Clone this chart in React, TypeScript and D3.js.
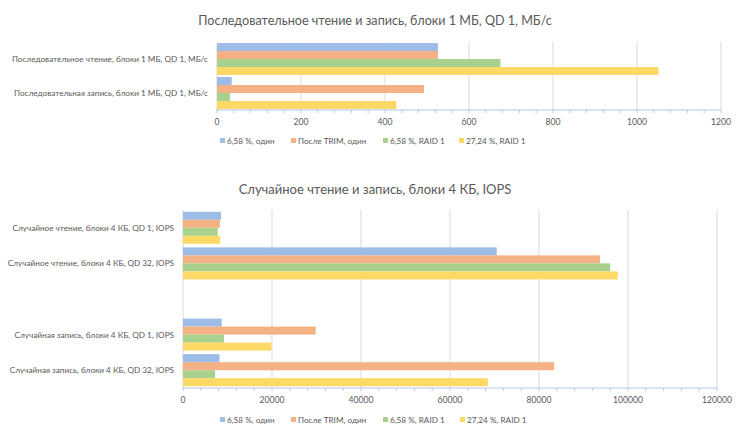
import * as React from "react";
import * as d3 from "d3";

const seriesNames = ["6,58 %, один", "После TRIM, один", "6,58 %, RAID 1", "27,24 %, RAID 1"];
const seriesColors = ["#9ebce8", "#f4b183", "#a9d18e", "#ffd966"];

const seqTitle = "Последовательное чтение и запись, блоки 1 МБ, QD 1, МБ/с";
const seqCategories = [
    "Последовательное чтение, блоки 1 МБ, QD 1, МБ/с",
    "Последовательная запись, блоки 1 МБ, QD 1, МБ/с",
];
// one array per category, values in series order
const seqRead = [526, 526, 675, 1051];
const seqWrite = [35, 493, 31, 427];
const seqTicks = [0, 200, 400, 600, 800, 1000, 1200];

const rndTitle = "Случайное чтение и запись, блоки 4 КБ, IOPS";
const rndCategories = [
    "Случайное чтение, блоки 4 КБ, QD 1, IOPS",
    "Случайное чтение, блоки 4 КБ, QD 32, IOPS",
    "",
    "Случайная запись, блоки 4 КБ, QD 1, IOPS",
    "Случайная запись, блоки 4 КБ, QD 32, IOPS",
];
const rndReadQd1 = [8540, 8300, 7800, 8300];
const rndReadQd32 = [70500, 93700, 96000, 97700];
const rndWriteQd1 = [8700, 29800, 9200, 19900];
const rndWriteQd32 = [8200, 83400, 7200, 68500];
const rndTicks = [0, 20000, 40000, 60000, 80000, 100000, 120000];

const FONT = "Lato, 'Open Sans', sans-serif";
const TEXT = "#595959";

type ChartProps = {
    title: string;
    titleY: number;
    titleSize: number;
    categories: string[];
    values: (number[] | null)[];
    ticks: number[];
    x0: number;
    x1: number;
    top: number;
    bottom: number;
    padInner: number;
    padOuter: number;
    legendY: number;
    legendX: number[];
};

function HBarChart(p: ChartProps) {
    const x = d3.scaleLinear().domain([0, p.ticks[p.ticks.length - 1]]).range([p.x0, p.x1]);
    const y = d3.scaleBand<number>()
        .domain(p.categories.map((_, i) => i))
        .range([p.top, p.bottom])
        .paddingInner(p.padInner)
        .paddingOuter(p.padOuter);
    const inner = d3.scaleBand<number>()
        .domain(seriesNames.map((_, i) => i))
        .range([0, y.bandwidth()]);
    const step = p.ticks[1] - p.ticks[0];
    const minor = d3.range(0, p.ticks[p.ticks.length - 1] + step / 10, step / 5);

    return (
        <g>
            <text x={375} y={p.titleY} textAnchor="middle" fontSize={p.titleSize} fill={TEXT} fontFamily={FONT}>
                {p.title}
            </text>
            {p.ticks.map((t) => (
                <line key={"g" + t} x1={x(t)} x2={x(t)} y1={p.top} y2={p.bottom} stroke="#d9d9d9" strokeWidth={1} />
            ))}
            {p.values.map((vals, ci) =>
                vals
                    ? vals.map((v, si) => (
                          <rect
                              key={ci + "-" + si}
                              x={x(0)}
                              y={(y(ci) as number) + (inner(si) as number)}
                              width={x(v) - x(0)}
                              height={inner.bandwidth()}
                              fill={seriesColors[si]}
                          />
                      ))
                    : null
            )}
            <line x1={x(0)} x2={x.range()[1]} y1={p.bottom} y2={p.bottom} stroke="#b4c7e7" strokeWidth={1.2} />
            {minor.map((t, i) => (
                <line key={"m" + i} x1={x(t)} x2={x(t)} y1={p.bottom} y2={p.bottom + 3} stroke="#b4c7e7" strokeWidth={1} />
            ))}
            {p.ticks.map((t) => (
                <text key={"t" + t} x={x(t)} y={p.bottom + 15} textAnchor="middle" fontSize={8.6} fill={TEXT} fontFamily={FONT}>
                    {t}
                </text>
            ))}
            {p.categories.map((c, i) => (
                <text
                    key={"c" + i}
                    x={x(0) - 9}
                    y={(y(i) as number) + y.bandwidth() / 2 + 3}
                    textAnchor="end"
                    fontSize={8.2}
                    fill={TEXT}
                    fontFamily={FONT}
                >
                    {c}
                </text>
            ))}
            {seriesNames.map((n, i) => (
                <g key={"l" + i}>
                    <rect x={p.legendX[i]} y={p.legendY - 3} width={5} height={5} fill={seriesColors[i]} />
                    <text x={p.legendX[i] + 7} y={p.legendY + 2.5} fontSize={8.2} fill={TEXT} fontFamily={FONT}>
                        {n}
                    </text>
                </g>
            ))}
        </g>
    );
}

export default function App() {
    return (
        <svg
            width={750}
            height={436}
            style={{ position: "absolute", left: 0, top: 0, background: "#fff" }}
        >
            <rect width={750} height={436} fill="#fff" />
            <HBarChart
                title={seqTitle}
                titleY={25}
                titleSize={12.6}
                categories={seqCategories}
                values={[seqRead, seqWrite]}
                ticks={seqTicks}
                x0={217}
                x1={721}
                top={42}
                bottom={110}
                padInner={0.06}
                padOuter={0.03}
                legendY={141}
                legendX={[220, 291, 383, 459]}
            />
            <HBarChart
                title={rndTitle}
                titleY={194}
                titleSize={13}
                categories={rndCategories}
                values={[rndReadQd1, rndReadQd32, null, rndWriteQd1, rndWriteQd32]}
                ticks={rndTicks}
                x0={183}
                x1={717}
                top={210}
                bottom={388}
                padInner={0.1}
                padOuter={0.05}
                legendY={420}
                legendX={[220, 291, 383, 460]}
            />
        </svg>
    );
}
